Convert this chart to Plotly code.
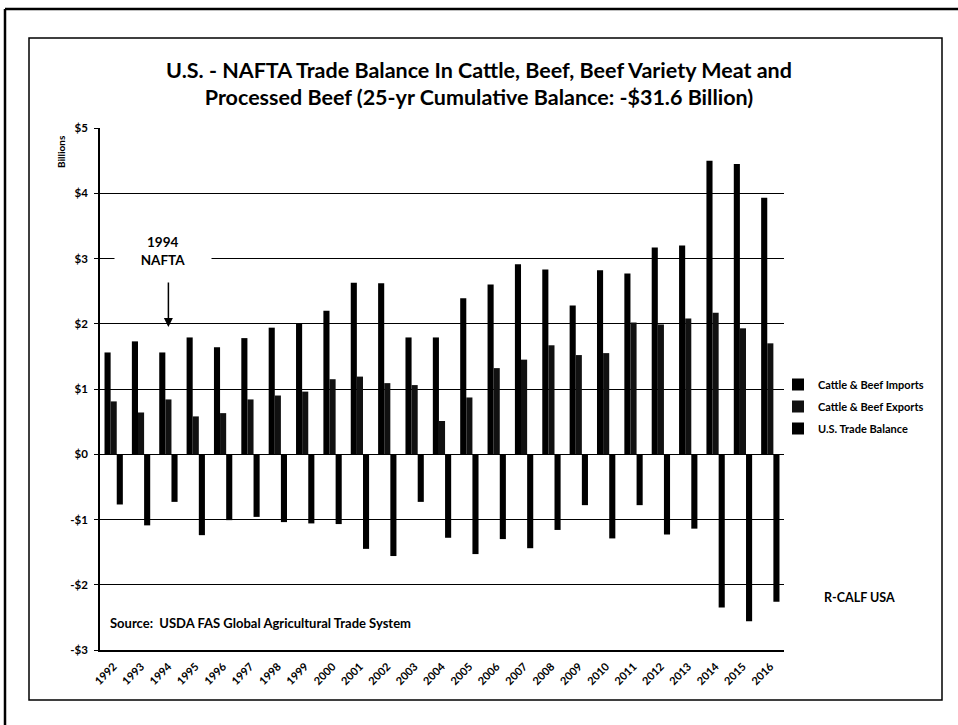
import plotly.graph_objects as go

years = [str(y) for y in range(1992, 2017)]
imports = [1.56, 1.73, 1.56, 1.79, 1.64, 1.78, 1.94, 2.00, 2.20, 2.63, 2.62, 1.79, 1.79,
           2.39, 2.60, 2.91, 2.83, 2.28, 2.82, 2.77, 3.17, 3.20, 4.50, 4.45, 3.93]
exports = [0.81, 0.64, 0.84, 0.58, 0.63, 0.84, 0.90, 0.96, 1.15, 1.19, 1.09, 1.06, 0.51,
           0.87, 1.32, 1.45, 1.67, 1.52, 1.55, 2.02, 1.99, 2.08, 2.17, 1.93, 1.70]
balance = [-0.77, -1.09, -0.73, -1.24, -1.01, -0.96, -1.04, -1.06, -1.07, -1.45, -1.56, -0.73, -1.28,
           -1.53, -1.30, -1.44, -1.16, -0.78, -1.29, -0.78, -1.23, -1.14, -2.35, -2.56, -2.26]
series_names = ["Cattle & Beef Imports", "Cattle & Beef Exports", "U.S. Trade Balance"]
tick_vals = [5, 4, 3, 2, 1, 0, -1, -2, -3]
tick_text = ["$5", "$4", "$3", "$2", "$1", "$0", "-$1", "-$2", "-$3"]
nafta_year = "1994"

W, H = 958, 725
L, R, T, B = 100, 174, 128, 75
PW, PH = W - L - R, H - T - B


def px(x):
    return (x - L) / PW


def py(y):
    return (H - B - y) / PH


FONT = "Lato"
fig = go.Figure()
for i, (name, vals, col) in enumerate(zip(series_names, [imports, exports, balance],
                                           ["#000000", "#111111", "#000000"])):
    fig.add_trace(go.Bar(x=years, y=vals, name=name, marker=dict(color=col, line=dict(width=0)),
                         legendgroup=str(i)))

fig.update_layout(
    width=W, height=H,
    margin=dict(l=L, r=R, t=T, b=B),
    paper_bgcolor="white", plot_bgcolor="white",
    barmode="group", bargap=0.33, bargroupgap=0,
    font=dict(family=FONT, color="black"),
    title=dict(text="<b>U.S. - NAFTA Trade Balance In Cattle, Beef, Beef Variety Meat and<br>"
                    "Processed Beef (25-yr Cumulative Balance: -$31.6 Billion)</b>",
               x=0.5, xanchor="center", y=1 - 77.5 / H, yanchor="middle",
               font=dict(family=FONT, size=21.5, color="black")),
    legend=dict(x=px(778), xanchor="left", y=py(370), yanchor="top",
                font=dict(family=FONT, size=11, color="black", weight="bold"),
                tracegroupgap=3, bgcolor="rgba(0,0,0,0)"),
    xaxis=dict(type="category", categoryorder="array", categoryarray=years,
               range=[-0.5, len(years) - 0.5], autorange=False, tickangle=-45,
               tickfont=dict(family=FONT, size=11, weight="bold"), ticklabelstandoff=4,
               showgrid=False, showline=True, linecolor="black", linewidth=2,
               ticks="", mirror=False, zeroline=False),
    yaxis=dict(range=[-3, 5], tickvals=tick_vals, ticktext=tick_text,
               tickfont=dict(family=FONT, size=11.5, weight="bold"), ticklabelstandoff=4,
               showgrid=True, gridcolor="black", gridwidth=1,
               showline=True, linecolor="black", linewidth=1.5,
               ticks="outside", ticklen=4, tickcolor="black",
               zeroline=True, zerolinecolor="black", zerolinewidth=1),
)

# frames
fig.add_shape(type="rect", xref="paper", yref="paper", x0=px(29), x1=px(942), y0=py(700), y1=py(38),
              line=dict(color="black", width=1.5), layer="below")
fig.add_shape(type="line", xref="paper", yref="paper", x0=px(5), x1=px(958), y0=py(9), y1=py(9),
              line=dict(color="black", width=2.5))
fig.add_shape(type="line", xref="paper", yref="paper", x0=px(5), x1=px(5), y0=py(725), y1=py(9),
              line=dict(color="black", width=2.5))

# annotations
fig.add_annotation(text="<b>Billions</b>", xref="paper", yref="paper", x=px(61), y=py(152),
                   xanchor="center", yanchor="middle",
                   showarrow=False, textangle=-90, font=dict(family=FONT, size=10))
fig.add_annotation(text="<b>1994<br>NAFTA</b>", xref="paper", yref="paper", x=px(163), y=py(251),
                   xanchor="center", yanchor="middle",
                   showarrow=False, font=dict(family=FONT, size=13.5), bgcolor="white",
                   borderpad=2, width=92)
fig.add_annotation(x=years.index(nafta_year), y=1.95, ax=0, ay=-46, text="", showarrow=True,
                   arrowhead=2, arrowsize=1.2, arrowwidth=1.5, arrowcolor="black",
                   xref="x", yref="y", axref="pixel", ayref="pixel")
fig.add_annotation(text="<b>Source:  USDA FAS Global Agricultural Trade System</b>", xref="paper",
                   yref="paper", x=px(108), y=py(623), xanchor="left", yanchor="middle",
                   showarrow=False, font=dict(family=FONT, size=13))
fig.add_annotation(text="<b>R-CALF USA</b>", xref="paper", yref="paper", x=px(822), y=py(597),
                   xanchor="left", yanchor="middle", showarrow=False, font=dict(family=FONT, size=12.5))

fig.write_html("out.html", post_script="document.body.style.margin='0';",
               config={"displayModeBar": False})
